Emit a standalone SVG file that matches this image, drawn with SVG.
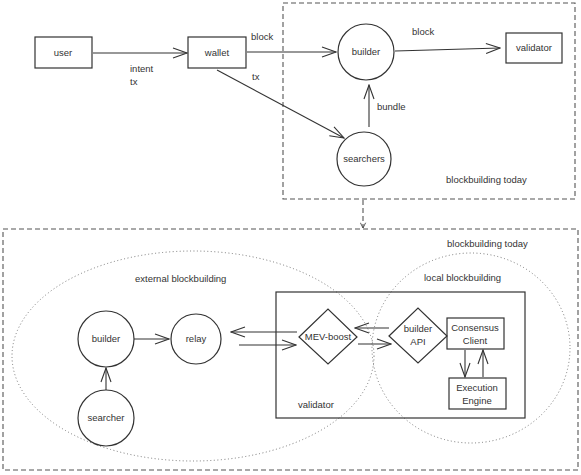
<svg xmlns="http://www.w3.org/2000/svg" width="581" height="475" viewBox="0 0 581 475">
<defs>
<marker id="arr" viewBox="0 0 16 12" refX="15" refY="6" markerWidth="16" markerHeight="12" markerUnits="userSpaceOnUse" orient="auto">
<path d="M1,1 L15,6 L1,11" fill="none" stroke="#333" stroke-width="1.1"/>
</marker>
<marker id="arrs" viewBox="0 0 8 8" refX="7" refY="4" markerWidth="7" markerHeight="7" markerUnits="userSpaceOnUse" orient="auto">
<path d="M1,1 L7,4 L1,7" fill="none" stroke="#444" stroke-width="1"/>
</marker>
</defs>
<style>
.s{fill:none;stroke:#333;stroke-width:1.2}
.d{fill:none;stroke:#555;stroke-width:1.1;stroke-dasharray:5 3}
.o{fill:none;stroke:#777;stroke-width:1;stroke-dasharray:1 2.5}
.c{stroke:#333;stroke-width:1.1;fill:none}
text{font-family:"Liberation Sans","DejaVu Sans",sans-serif;font-size:9.5px;fill:#333}
.m{text-anchor:middle}
</style>
<rect width="581" height="475" fill="#fff"/>

<g id="top-region">
<rect class="d" x="283" y="3" width="292" height="196"/>
<text x="446" y="183">blockbuilding today</text>
</g>
<g id="bottom-region">
<rect class="d" x="3" y="229" width="575" height="241"/>
<text x="447" y="247">blockbuilding today</text>
</g>
<g id="external-blockbuilding">
<ellipse class="o" cx="193" cy="356" rx="181" ry="105"/>
<text x="135" y="282">external blockbuilding</text>
</g>
<g id="local-blockbuilding">
<ellipse class="o" cx="471" cy="348" rx="99" ry="95"/>
<text x="424" y="281">local blockbuilding</text>
</g>

<g id="user"><rect class="s" x="35" y="37" width="57" height="31"/><text class="m" x="63" y="56">user</text></g>
<g id="wallet"><rect class="s" x="188" y="37" width="58" height="31"/><text class="m" x="217" y="56">wallet</text></g>
<g id="builder-top"><circle class="s" cx="366" cy="52" r="28"/><text class="m" x="366" y="55">builder</text></g>
<g id="validator-top"><rect class="s" x="506" y="33" width="56" height="30"/><text class="m" x="534" y="51">validator</text></g>
<g id="searchers"><circle class="s" cx="364" cy="159" r="27"/><text class="m" x="364" y="162">searchers</text></g>

<g id="validator"><rect class="s" x="276" y="292" width="249" height="126"/><text x="298" y="408">validator</text></g>
<g id="builder"><circle class="s" cx="106" cy="339" r="28"/><text class="m" x="106" y="342">builder</text></g>
<g id="searcher"><circle class="s" cx="106" cy="418" r="28"/><text class="m" x="106" y="421">searcher</text></g>
<g id="relay"><circle class="s" cx="196" cy="339" r="25"/><text class="m" x="196" y="342">relay</text></g>
<g id="mev-boost"><path class="s" d="M299,337 L328,309 L357,337 L328,364 Z"/><text class="m" x="328" y="340">MEV-boost</text></g>
<g id="builder-api"><path class="s" d="M389,336 L418,308 L447,336 L418,363 Z"/><text class="m" x="418" y="332">builder</text><text class="m" x="418" y="345">API</text></g>
<g id="consensus-client"><rect class="s" x="447" y="318" width="57" height="31"/><text class="m" x="475" y="331">Consensus</text><text class="m" x="475" y="344">Client</text></g>
<g id="execution-engine"><rect class="s" x="449" y="378" width="57" height="31"/><text class="m" x="477" y="391">Execution</text><text class="m" x="477" y="404">Engine</text></g>

<g id="connectors">
<line class="c" x1="93" y1="53" x2="187" y2="53" marker-end="url(#arr)"/>
<text x="130" y="72">intent</text>
<text x="130" y="85">tx</text>
<line class="c" x1="247" y1="52" x2="336" y2="52" marker-end="url(#arr)"/>
<text x="251" y="40">block</text>
<line class="c" x1="217" y1="70" x2="344" y2="138" marker-end="url(#arr)"/>
<text x="252" y="80">tx</text>
<line class="c" x1="395" y1="51" x2="500" y2="48" marker-end="url(#arr)"/>
<text x="412" y="35">block</text>
<line class="c" x1="369" y1="127" x2="369" y2="85" marker-end="url(#arr)"/>
<text x="377" y="110">bundle</text>
<line class="d" x1="363" y1="200" x2="363" y2="228" marker-end="url(#arrs)"/>
<line class="c" x1="106" y1="390" x2="106" y2="368" marker-end="url(#arr)"/>
<line class="c" x1="134" y1="339" x2="169" y2="339" marker-end="url(#arr)"/>
<line class="c" x1="297" y1="332" x2="231" y2="332" marker-end="url(#arr)"/>
<line class="c" x1="239" y1="345" x2="296" y2="345" marker-end="url(#arr)"/>
<line class="c" x1="389" y1="328" x2="355" y2="328" marker-end="url(#arr)"/>
<line class="c" x1="358" y1="344" x2="391" y2="344" marker-end="url(#arr)"/>
<line class="c" x1="465" y1="350" x2="465" y2="377" marker-end="url(#arr)"/>
<line class="c" x1="483" y1="377" x2="483" y2="350" marker-end="url(#arr)"/>
</g>
</svg>
